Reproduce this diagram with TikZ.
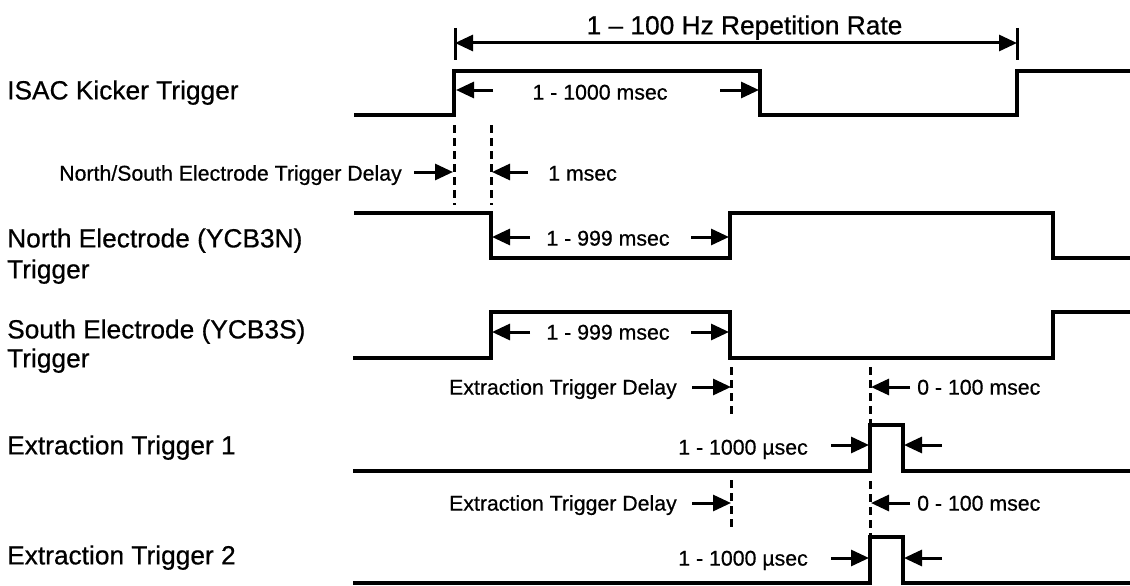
\documentclass[tikz,border=0pt]{standalone}
\usepackage{fontspec}
\setmainfont{Liberation Sans}[FakeBold=0.6]
\usetikzlibrary{arrows.meta}
\tikzset{
  sig/.style={line width=3.3pt, line join=miter, line cap=rect},
  tip/.tip={Triangle[length=18pt,width=16pt]},
  dimarrow/.style={line width=3pt, -tip},
  dimboth/.style={line width=3pt, tip-tip},
  tick/.style={line width=3pt},
  guide/.style={line width=3pt, dash pattern=on 8pt off 5pt},
  lbig/.style={font=\fontsize{26.3}{30}\selectfont, inner sep=0pt},
  lsmall/.style={font=\fontsize{21.3}{25}\selectfont, inner sep=0pt}
}
\begin{document}
\begin{tikzpicture}[x=1pt,y=-1pt]
\useasboundingbox (0,0) rectangle (1130,586);

% ---------- labels ----------
\node[lbig, anchor=base] (title) at (744.5,34.4) {1 -- 100 Hz Repetition Rate};
\node[lbig, anchor=base west] (isac) at (7,99.4) {ISAC Kicker Trigger};
\node[lbig, anchor=base west] (northA) at (7,247.4) {North Electrode (YCB3N)};
\node[lbig, anchor=base west] (northB) at (7,278.4) {Trigger};
\node[lbig, anchor=base west] (southA) at (7,338.4) {South Electrode (YCB3S)};
\node[lbig, anchor=base west] (southB) at (7,367.4) {Trigger};
\node[lbig, anchor=base west] (et1) at (7,454.4) {Extraction Trigger 1};
\node[lbig, anchor=base west] (et2) at (7,564.4) {Extraction Trigger 2};

\node[lsmall, anchor=base] (isacw) at (600,99.6) {1 - 1000 msec};
\node[lsmall, anchor=base east] (nsd) at (402,180.6) {North/South Electrode Trigger Delay};
\node[lsmall, anchor=base west] (onems) at (548,180.6) {1 msec};
\node[lsmall, anchor=base] (northw) at (608,245.6) {1 - 999 msec};
\node[lsmall, anchor=base] (southw) at (608,339.6) {1 - 999 msec};
\node[lsmall, anchor=base east] (etd1) at (677,394.6) {Extraction Trigger Delay};
\node[lsmall, anchor=base west] (rng1) at (917,394.6) {0 - 100 msec};
\node[lsmall, anchor=base east] (us1) at (808,454.6) {1 - 1000 µsec};
\node[lsmall, anchor=base east] (etd2) at (677,510.6) {Extraction Trigger Delay};
\node[lsmall, anchor=base west] (rng2) at (917,510.6) {0 - 100 msec};
\node[lsmall, anchor=base east] (us2) at (808,565.6) {1 - 1000 µsec};

% ---------- waveforms ----------
\draw[sig] (356,115) -- (454,115) -- (454,71) -- (760,71) -- (760,115) -- (1017,115) -- (1017,71) -- (1133,71);
\draw[sig] (356,213) -- (491,213) -- (491,258) -- (730,258) -- (730,213) -- (1053,213) -- (1053,258) -- (1133,258);
\draw[sig] (355,358) -- (491,358) -- (491,312) -- (730,312) -- (730,358) -- (1053,358) -- (1053,312) -- (1133,312);
\draw[sig] (355,471) -- (870,471) -- (870,425) -- (903,425) -- (903,471) -- (1133,471);
\draw[sig] (355,583) -- (870,583) -- (870,537) -- (903,537) -- (903,583) -- (1133,583);

% ---------- repetition rate ----------
\draw[tick] (455,28) -- (455,60);
\draw[tick] (1017,28) -- (1017,60);
\draw[dimboth] (455,43) -- (1017,43);

% ---------- dashed guides ----------
\draw[guide] (454,125) -- (454,205);
\draw[guide] (491,125) -- (491,205);
\draw[guide] (731,367) -- (731,418);
\draw[guide] (870,367) -- (870,425);
\draw[guide] (731,480) -- (731,529);
\draw[guide] (870,481) -- (870,537);

% ---------- dimension arrows ----------
\draw[dimarrow] (493,90) -- (456,90);
\draw[dimarrow] (720,90) -- (759,90);
\draw[dimarrow] (414,172) -- (453,172);
\draw[dimarrow] (528,172) -- (492,172);
\draw[dimarrow] (530,237) -- (492,237);
\draw[dimarrow] (691,237) -- (729,237);
\draw[dimarrow] (530,332) -- (492,332);
\draw[dimarrow] (691,332) -- (729,332);
\draw[dimarrow] (692,387) -- (731,387);
\draw[dimarrow] (910,387) -- (871,387);
\draw[dimarrow] (831,445) -- (869,445);
\draw[dimarrow] (942,445) -- (904,445);
\draw[dimarrow] (692,503) -- (731,503);
\draw[dimarrow] (910,503) -- (871,503);
\draw[dimarrow] (831,558) -- (869,558);
\draw[dimarrow] (942,558) -- (904,558);
\end{tikzpicture}
\end{document}
